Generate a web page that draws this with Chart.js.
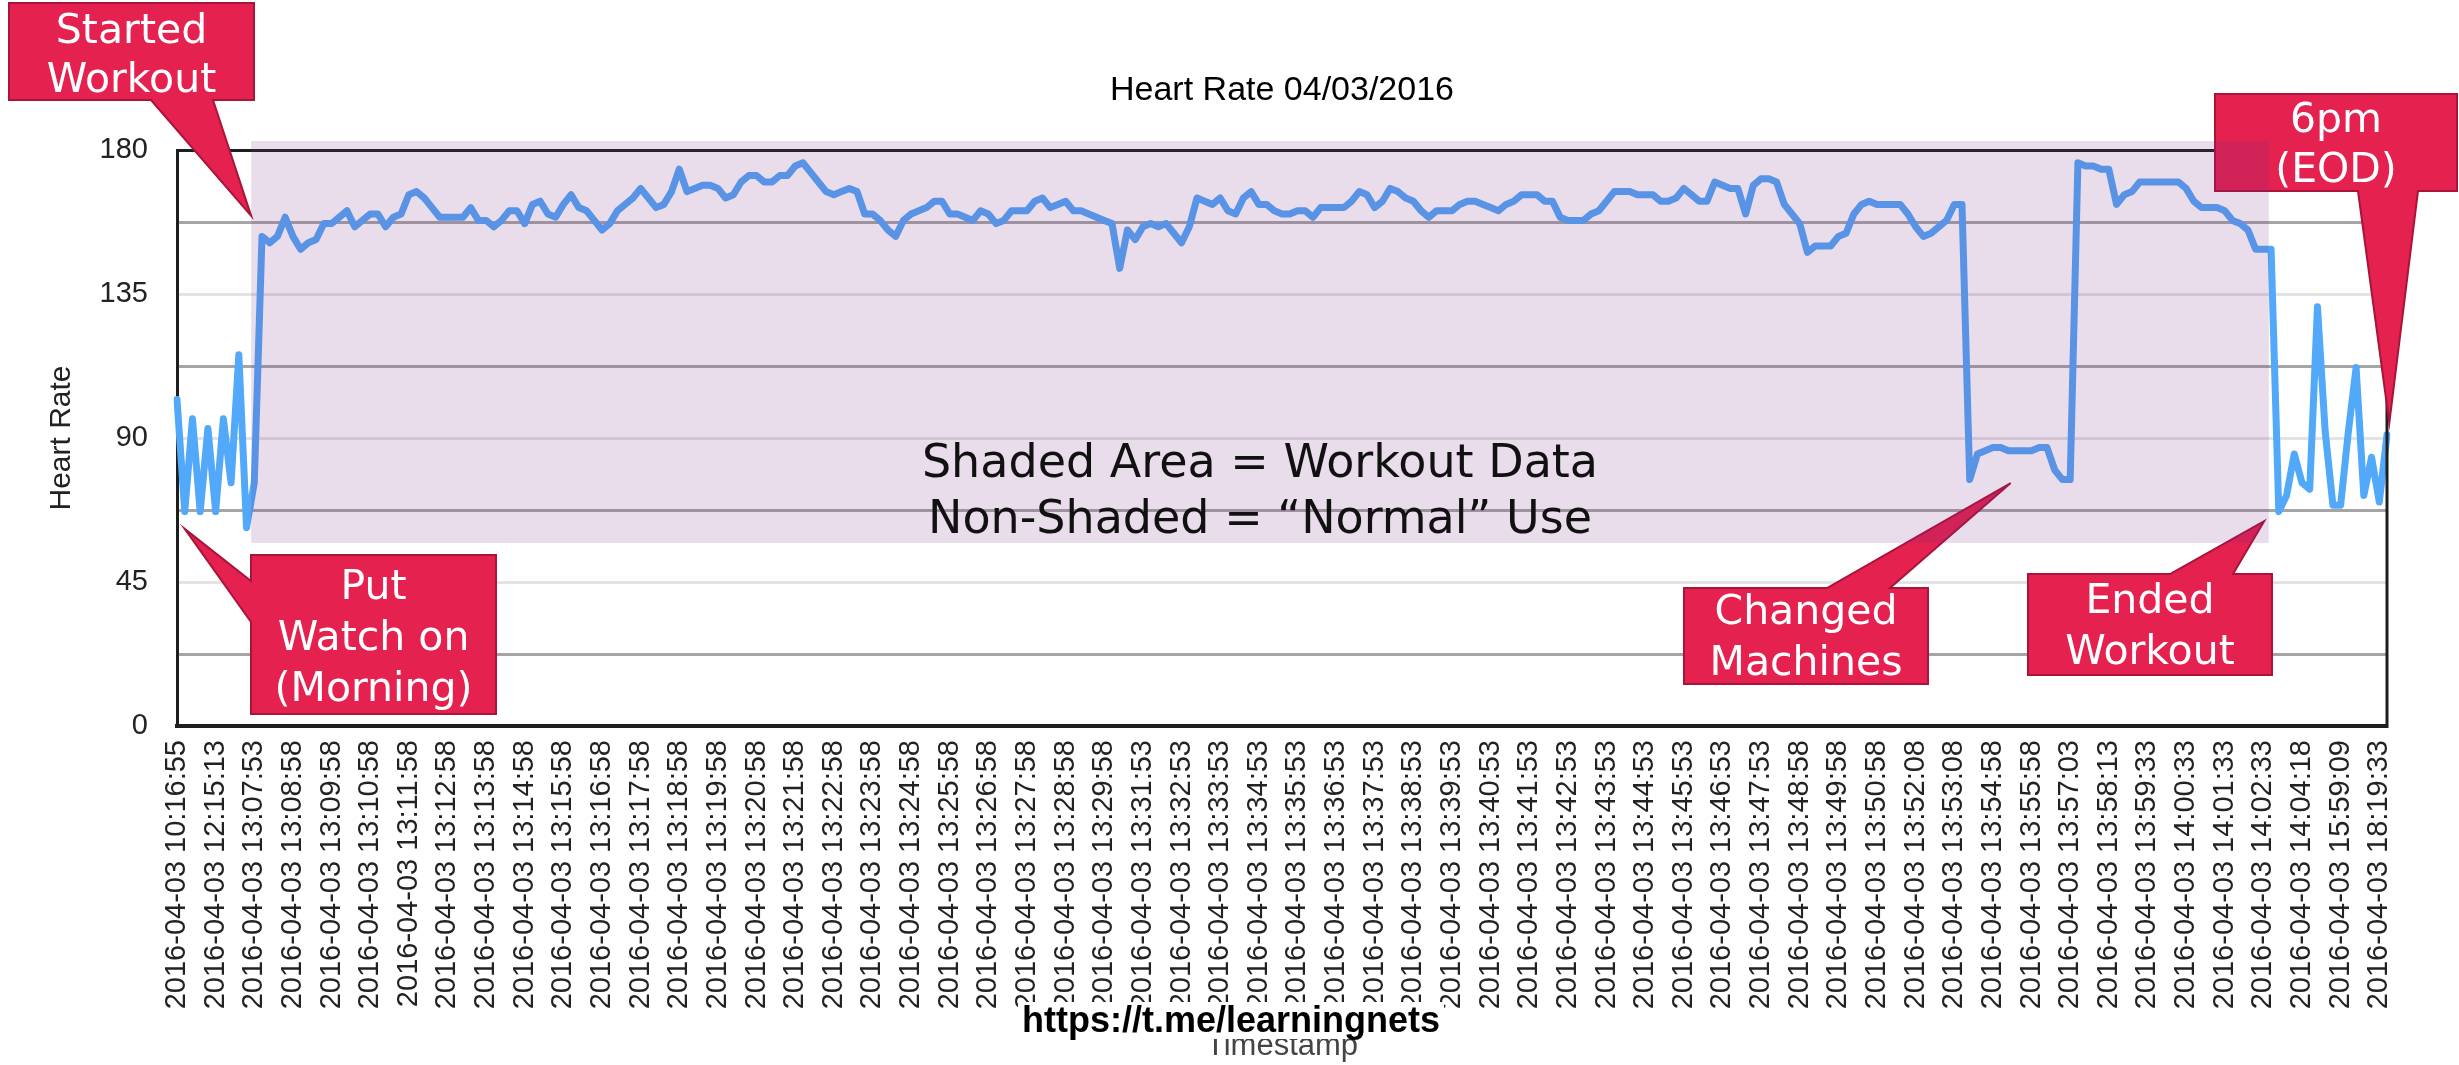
<!DOCTYPE html>
<html lang="en">
<head>
    <meta charset="UTF-8">
    <title>Heart Rate 04/03/2016</title>
    <script src="https://cdnjs.cloudflare.com/ajax/libs/Chart.js/4.4.1/chart.umd.js"></script>
    <style>
        body {
            margin: 0;
            background: #ffffff;
        }
        #wrap {
            width: 2459px;
            height: 1065px;
        }
    </style>
</head>
<body>
    <div id="wrap">
        <canvas id="heartChart" width="2459" height="1065"></canvas>
    </div>

    <script>
        // Tick labels shown on the x axis (one every 5 samples)
        const timeLabels = [
            '2016-04-03 10:16:55', '2016-04-03 12:15:13', '2016-04-03 13:07:53', '2016-04-03 13:08:58',
            '2016-04-03 13:09:58', '2016-04-03 13:10:58', '2016-04-03 13:11:58', '2016-04-03 13:12:58',
            '2016-04-03 13:13:58', '2016-04-03 13:14:58', '2016-04-03 13:15:58', '2016-04-03 13:16:58',
            '2016-04-03 13:17:58', '2016-04-03 13:18:58', '2016-04-03 13:19:58', '2016-04-03 13:20:58',
            '2016-04-03 13:21:58', '2016-04-03 13:22:58', '2016-04-03 13:23:58', '2016-04-03 13:24:58',
            '2016-04-03 13:25:58', '2016-04-03 13:26:58', '2016-04-03 13:27:58', '2016-04-03 13:28:58',
            '2016-04-03 13:29:58', '2016-04-03 13:31:53', '2016-04-03 13:32:53', '2016-04-03 13:33:53',
            '2016-04-03 13:34:53', '2016-04-03 13:35:53', '2016-04-03 13:36:53', '2016-04-03 13:37:53',
            '2016-04-03 13:38:53', '2016-04-03 13:39:53', '2016-04-03 13:40:53', '2016-04-03 13:41:53',
            '2016-04-03 13:42:53', '2016-04-03 13:43:53', '2016-04-03 13:44:53', '2016-04-03 13:45:53',
            '2016-04-03 13:46:53', '2016-04-03 13:47:53', '2016-04-03 13:48:58', '2016-04-03 13:49:58',
            '2016-04-03 13:50:58', '2016-04-03 13:52:08', '2016-04-03 13:53:08', '2016-04-03 13:54:58',
            '2016-04-03 13:55:58', '2016-04-03 13:57:03', '2016-04-03 13:58:13', '2016-04-03 13:59:33',
            '2016-04-03 14:00:33', '2016-04-03 14:01:33', '2016-04-03 14:02:33', '2016-04-03 14:04:18',
            '2016-04-03 15:59:09', '2016-04-03 18:19:33'
        ];
        const LABEL_EVERY = 5;

        // Heart rate samples (bpm)
        const heartRate = [
            102, 67, 96, 67, 93, 67, 96, 76, 116, 62,
            76, 153, 151, 153, 159, 153, 149, 151, 152, 157,
            157, 159, 161, 156, 158, 160, 160, 156, 159, 160,
            166, 167, 165, 162, 159, 159, 159, 159, 162, 158,
            158, 156, 158, 161, 161, 157, 163, 164, 160, 159,
            163, 166, 162, 161, 158, 155, 157, 161, 163, 165,
            168, 165, 162, 163, 167, 174, 167, 168, 169, 169,
            168, 165, 166, 170, 172, 172, 170, 170, 172, 172,
            175, 176, 173, 170, 167, 166, 167, 168, 167, 160,
            160, 158, 155, 153, 158, 160, 161, 162, 164, 164,
            160, 160, 159, 158, 161, 160, 157, 158, 161, 161,
            161, 164, 165, 162, 163, 164, 161, 161, 160, 159,
            158, 157, 143, 155, 152, 156, 157, 156, 157, 154,
            151, 156, 165, 164, 163, 165, 161, 160, 165, 167,
            163, 163, 161, 160, 160, 161, 161, 159, 162, 162,
            162, 162, 164, 167, 166, 162, 164, 168, 167, 165,
            164, 161, 159, 161, 161, 161, 163, 164, 164, 163,
            162, 161, 163, 164, 166, 166, 166, 164, 164, 159,
            158, 158, 158, 160, 161, 164, 167, 167, 167, 166,
            166, 166, 164, 164, 165, 168, 166, 164, 164, 170,
            169, 168, 168, 160, 169, 171, 171, 170, 163, 160,
            157, 148, 150, 150, 150, 153, 154, 160, 163, 164,
            163, 163, 163, 163, 160, 156, 153, 154, 156, 158,
            163, 163, 77, 85, 86, 87, 87, 86, 86, 86,
            86, 87, 87, 80, 77, 77, 176, 175, 175, 174,
            174, 163, 166, 167, 170, 170, 170, 170, 170, 170,
            168, 164, 162, 162, 162, 161, 158, 157, 155, 149,
            149, 149, 67, 72, 85, 76, 74, 131, 92, 69,
            69, 92, 112, 72, 84, 70, 91
        ];

        // Workout window (sample index range and bpm range of the shaded box)
        const workoutRange = [9.6, 270.7];
        const shadeRange = [57.2, 182.8];

        // Callouts pasted over the chart: box in page pixels, tip in chart units
        const callouts = [
            { lines: ['Started', 'Workout'], box: [9, 3, 254, 100], side: 'bottom', base: [151, 213],
              tip: [9.6, 159.4], baselines: [43, 92] },
            { lines: ['Put', 'Watch on', '(Morning)'], box: [251, 555, 496, 714], side: 'left', base: [581, 622],
              tip: [1.0, 61.6], baselines: [599, 650, 701] },
            { lines: ['Changed', 'Machines'], box: [1684, 588, 1928, 684], side: 'top', base: [1827, 1890],
              tip: [237.3, 75.9], baselines: [624, 675] },
            { lines: ['Ended', 'Workout'], box: [2028, 574, 2272, 675], side: 'top', base: [2170, 2233],
              tip: [270.1, 64], baselines: [613, 664] },
            { lines: ['6pm', '(EOD)'], box: [2215, 94, 2457, 191], side: 'bottom', base: [2358, 2418],
              tip: [286.3, 94.7], baselines: [132, 182] }
        ];

        const GRID_DARK = '#a5a5a5';
        const GRID_LIGHT = '#e3e3e3';
        const FRAME = '#1e1e1e';

        function calloutPath(ctx, c, tx, ty) {
            const [x1, y1, x2, y2] = c.box;
            const [p, q] = c.base;
            ctx.beginPath();
            if (c.side === 'bottom') {
                ctx.moveTo(x1, y1); ctx.lineTo(x2, y1); ctx.lineTo(x2, y2);
                ctx.lineTo(q, y2); ctx.lineTo(tx, ty); ctx.lineTo(p, y2); ctx.lineTo(x1, y2);
            } else if (c.side === 'top') {
                ctx.moveTo(x1, y1); ctx.lineTo(p, y1); ctx.lineTo(tx, ty); ctx.lineTo(q, y1);
                ctx.lineTo(x2, y1); ctx.lineTo(x2, y2); ctx.lineTo(x1, y2);
            } else {
                ctx.moveTo(x1, y1); ctx.lineTo(x2, y1); ctx.lineTo(x2, y2); ctx.lineTo(x1, y2);
                ctx.lineTo(x1, q); ctx.lineTo(tx, ty); ctx.lineTo(x1, p);
            }
            ctx.closePath();
        }

        // Draws the frame edge, the red callouts, the shaded workout box and the watermark
        const overlayPlugin = {
            id: 'overlay',
            afterDraw(chart) {
                const { ctx, chartArea: area, scales: { x, y } } = chart;
                ctx.save();

                // right edge of the plot frame
                ctx.strokeStyle = FRAME;
                ctx.lineWidth = 3;
                ctx.beginPath();
                ctx.moveTo(area.right, area.top - 1.5);
                ctx.lineTo(area.right, area.bottom + 2);
                ctx.stroke();

                // callouts
                callouts.forEach(c => {
                    const tx = x.getPixelForValue(c.tip[0]);
                    const ty = y.getPixelForValue(c.tip[1]);
                    calloutPath(ctx, c, tx, ty);
                    ctx.fillStyle = '#e4214f';
                    ctx.fill();
                    ctx.strokeStyle = '#a8143a';
                    ctx.lineWidth = 2;
                    ctx.stroke();

                    ctx.fillStyle = '#ffffff';
                    ctx.font = '41px "DejaVu Sans"';
                    ctx.textAlign = 'center';
                    ctx.textBaseline = 'alphabetic';
                    const cx = (c.box[0] + c.box[2]) / 2;
                    c.lines.forEach((t, k) => ctx.fillText(t, cx, c.baselines[k]));
                });

                // shaded workout area, laid over everything below it
                const sx1 = x.getPixelForValue(workoutRange[0]);
                const sx2 = x.getPixelForValue(workoutRange[1]);
                const sy1 = y.getPixelForValue(shadeRange[1]);
                const sy2 = y.getPixelForValue(shadeRange[0]);
                ctx.fillStyle = 'rgba(125, 45, 135, 0.17)';
                ctx.fillRect(sx1, sy1, sx2 - sx1, sy2 - sy1);

                ctx.fillStyle = '#111111';
                ctx.font = '46px "DejaVu Sans"';
                ctx.textAlign = 'center';
                const mid = (sx1 + sx2) / 2;
                ctx.fillText('Shaded Area = Workout Data', mid, 477);
                ctx.fillText('Non-Shaded = \u201CNormal\u201D Use', mid, 533);

                // watermark
                ctx.font = 'bold 36px "Liberation Sans", Arial, sans-serif';
                const wm = 'https://t.me/learningnets';
                const w = ctx.measureText(wm).width;
                ctx.fillStyle = '#ffffff';
                ctx.fillRect(1231 - w / 2 - 4, 1002, w + 8, 37);
                ctx.fillStyle = '#000000';
                ctx.fillText(wm, 1231, 1032);

                ctx.restore();
            }
        };

        function createHeartChart() {
            const ctx = document.getElementById('heartChart');

            new Chart(ctx, {
                type: 'line',
                data: {
                    labels: heartRate.map((_, i) => i),
                    datasets: [{
                        label: 'Heart Rate',
                        data: heartRate,
                        borderColor: '#52a8f9',
                        borderWidth: 7,
                        borderJoinStyle: 'round',
                        borderCapStyle: 'round',
                        pointRadius: 0,
                        tension: 0,
                        fill: false
                    }]
                },
                options: {
                    responsive: false,
                    animation: false,
                    devicePixelRatio: 1,
                    layout: {
                        padding: { left: 0, right: 72, top: 0, bottom: 0 }
                    },
                    plugins: {
                        legend: { display: false },
                        tooltip: { enabled: false },
                        title: {
                            display: true,
                            fullSize: false,
                            text: 'Heart Rate 04/03/2016',
                            color: '#000000',
                            font: { family: '"Liberation Sans", Arial, sans-serif', size: 34, weight: 'normal', lineHeight: 1.2 },
                            padding: { top: 70, bottom: 39.2 }
                        }
                    },
                    scales: {
                        x: {
                            type: 'category',
                            offset: false,
                            afterFit: scale => { scale.height = 339; },
                            grid: { display: false, drawTicks: false },
                            border: { display: true, color: FRAME, width: 4 },
                            ticks: {
                                autoSkip: false,
                                minRotation: 90,
                                maxRotation: 90,
                                padding: 14,
                                color: '#222222',
                                font: { family: '"Liberation Sans", Arial, sans-serif', size: 29 },
                                callback: (value, index) =>
                                    index % LABEL_EVERY === 0 ? timeLabels[index / LABEL_EVERY] : null
                            },
                            title: {
                                display: true,
                                text: 'Timestamp',
                                color: '#444444',
                                font: { family: '"Liberation Sans", Arial, sans-serif', size: 31, lineHeight: 1.2 },
                                padding: { top: 0, bottom: 0 }
                            }
                        },
                        y: {
                            min: 0,
                            max: 180,
                            afterFit: scale => { scale.width = 177; },
                            border: { display: true, color: FRAME, width: 3 },
                            grid: {
                                drawTicks: false,
                                lineWidth: 3,
                                color: c => {
                                    const v = c.tick.value;
                                    if (v === 0 || v === 180) return FRAME;
                                    return v % 45 === 0 ? GRID_LIGHT : GRID_DARK;
                                }
                            },
                            ticks: {
                                stepSize: 22.5,
                                padding: 29,
                                color: '#222222',
                                font: { family: '"Liberation Sans", Arial, sans-serif', size: 29 },
                                callback: value => (value % 45 === 0 ? String(value) : '')
                            },
                            title: {
                                display: true,
                                text: 'Heart Rate',
                                color: '#222222',
                                font: { family: '"Liberation Sans", Arial, sans-serif', size: 30, lineHeight: 1.2 },
                                padding: { top: 44, bottom: 0 }
                            }
                        }
                    }
                },
                plugins: [overlayPlugin]
            });
        }

        createHeartChart();
    </script>
</body>
</html>
